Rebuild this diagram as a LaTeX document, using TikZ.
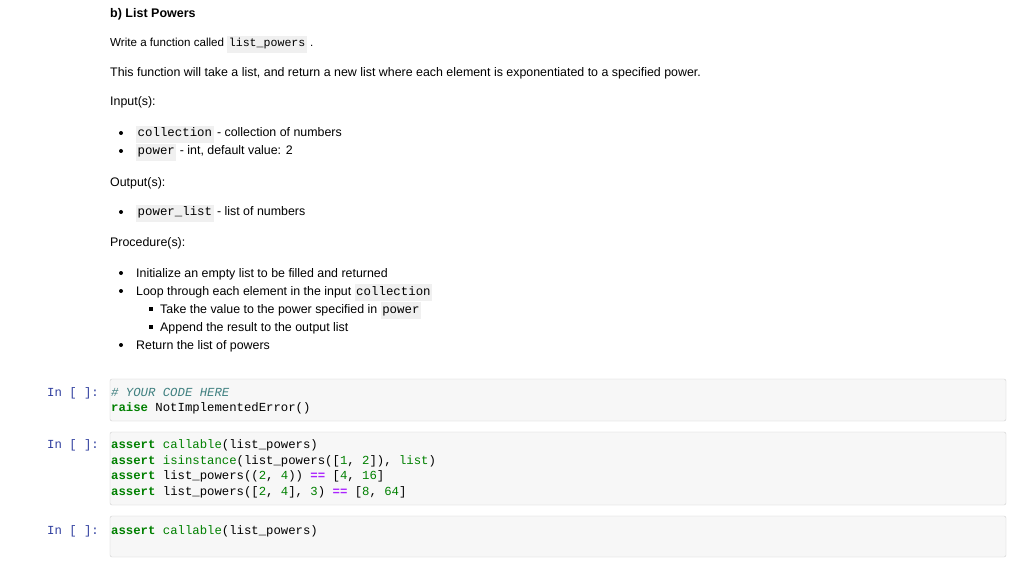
\documentclass[tikz,border=0pt]{standalone}
\usepackage{fontspec}
\setmainfont{Liberation Sans}
\setmonofont{Liberation Mono}
\definecolor{icbg}{RGB}{240,240,240}
\definecolor{kw}{RGB}{0,128,0}
\definecolor{cm}{RGB}{64,128,128}
\definecolor{prm}{RGB}{48,63,159}
\definecolor{op}{RGB}{170,34,255}
\definecolor{cellbg}{RGB}{247,247,247}
\definecolor{cellbd}{RGB}{207,207,207}
\newcommand\ic[1]{{\setlength\fboxsep{1.5pt}\colorbox{icbg}{\ttfamily\strut #1}}}
\newcommand\K[1]{\textcolor{kw}{\textbf{#1}}}
\newcommand\G[1]{\textcolor{kw}{#1}}
\newcommand\OP[1]{\textcolor{op}{\textbf{#1}}}
\tikzset{
 txt/.style={anchor=base west,inner sep=0pt,font=\fontsize{12.4}{14}\selectfont},
 code/.style={anchor=base west,inner sep=0pt,font=\fontsize{12.3}{14}\selectfont\ttfamily},
 prompt/.style={anchor=base west,inner sep=0pt,font=\fontsize{12.3}{14}\selectfont\ttfamily,text=prm},
 cell/.style={draw=cellbd,fill=cellbg,rounded corners=2pt},
 bul/.style={circle,fill=black,inner sep=0pt,minimum size=4pt},
 sbul/.style={fill=black,inner sep=0pt,minimum size=3.6pt}
}
\begin{document}
\begin{tikzpicture}[x=1pt,y=-1pt]
\useasboundingbox (0,0) rectangle (1024,577);
\fill[white] (0,0) rectangle (1024,577);
\node[txt,font=\fontsize{12.5}{14}\selectfont\bfseries] (t) at (110,18) {b) List Powers};
\node[txt,font=\fontsize{11.6}{14}\selectfont] (w) at (110,47) {Write a function called \ic{list\_powers} .};
\node[txt] (d) at (110,77) {This function will take a list, and return a new list where each element is exponentiated to a specified power.};
\node[txt] (i) at (110,106) {Input(s):};
\node[bul] (b1) at (121,133) {}; \node[txt] (i1) at (136,137) {\ic{collection} - collection of numbers};
\node[bul] (b2) at (121,151) {}; \node[txt] (i2) at (136,155) {\ic{power} - int, default value: 2};
\node[txt] (o) at (110,187) {Output(s):};
\node[bul] (b3) at (121,212) {}; \node[txt] (o1) at (136,216) {\ic{power\_list} - list of numbers};
\node[txt] (p) at (110,247) {Procedure(s):};
\node[bul] (b4) at (121,273) {}; \node[txt] (p1) at (136,277) {Initialize an empty list to be filled and returned};
\node[bul] (b5) at (121,291) {}; \node[txt] (p2) at (136,295) {Loop through each element in the input \ic{collection}};
\node[sbul] (b6) at (151,309) {}; \node[txt] (p3) at (160,313) {Take the value to the power specified in \ic{power}};
\node[sbul] (b7) at (151,327) {}; \node[txt] (p4) at (160,331) {Append the result to the output list};
\node[bul] (b8) at (121,345) {}; \node[txt] (p5) at (136,349) {Return the list of powers};

\draw[cell] (110,379) rectangle (1006,421);
\node[prompt] (n1) at (47,396) {In [ ]:};
\node[code] (c1a) at (111,396) {\textcolor{cm}{\itshape\# YOUR CODE HERE}};
\node[code] (c1b) at (111,411) {\K{raise} NotImplementedError()};

\draw[cell] (110,432) rectangle (1006,505);
\node[prompt] (n2) at (47,448) {In [ ]:};
\node[code] (c2a) at (111,448) {\K{assert} \G{callable}(list\_powers)};
\node[code] (c2b) at (111,464) {\K{assert} \G{isinstance}(list\_powers([\G{1}, \G{2}]), \G{list})};
\node[code] (c2c) at (111,479) {\K{assert} list\_powers((\G{2}, \G{4})) \OP{==} [\G{4}, \G{16}]};
\node[code] (c2d) at (111,495) {\K{assert} list\_powers([\G{2}, \G{4}], \G{3}) \OP{==} [\G{8}, \G{64}]};

\draw[cell] (110,516) rectangle (1006,557);
\node[prompt] (n3) at (47,534) {In [ ]:};
\node[code] (c3) at (111,534) {\K{assert} \G{callable}(list\_powers)};
\end{tikzpicture}
\end{document}
